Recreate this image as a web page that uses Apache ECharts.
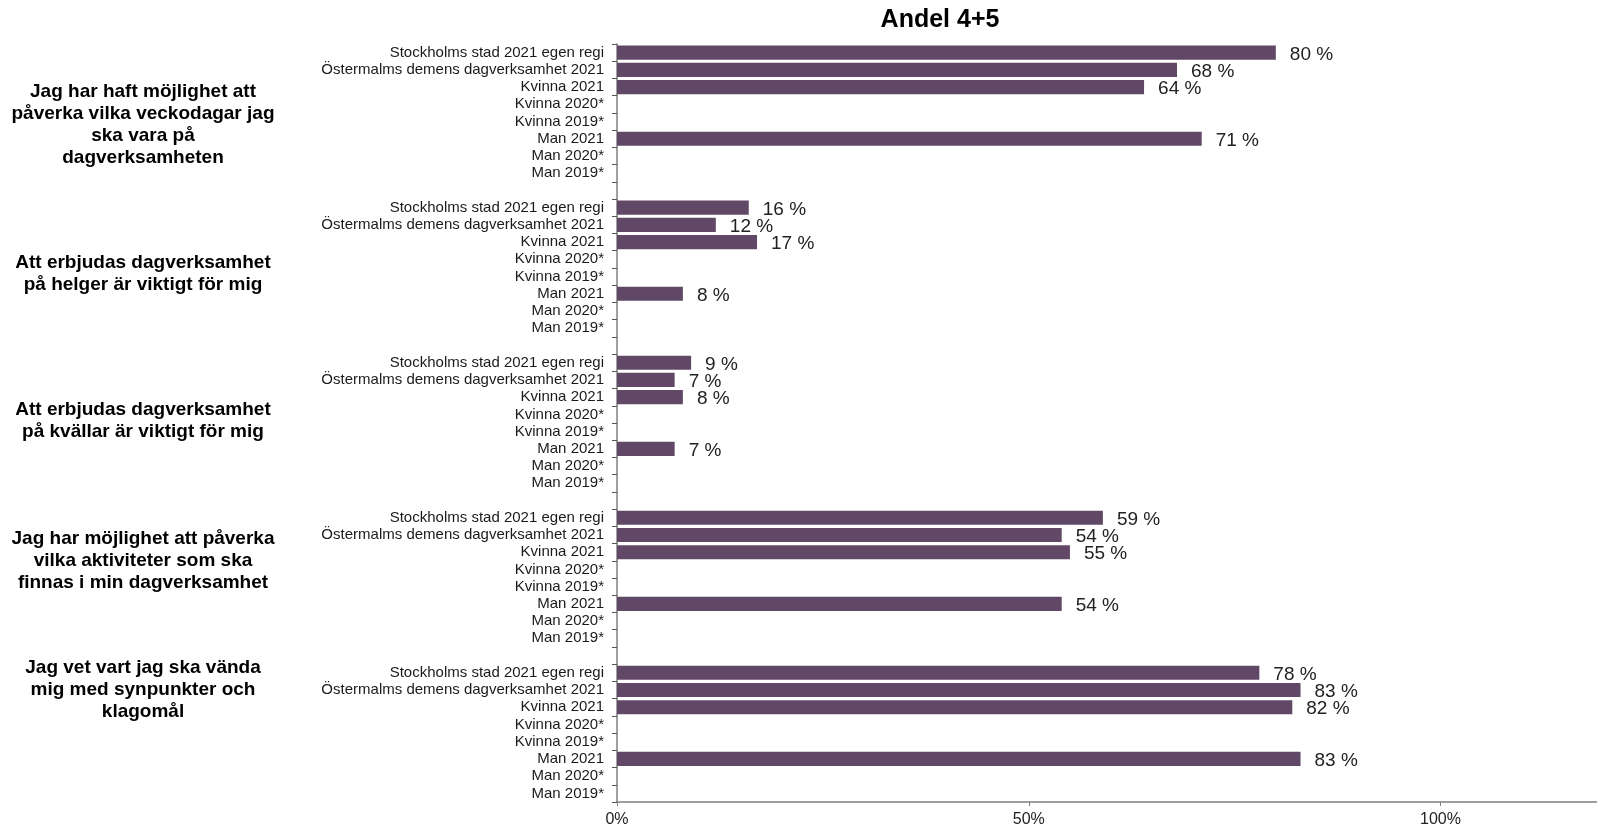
<!DOCTYPE html>
<html>
<head>
<meta charset="utf-8">
<script src="https://cdn.jsdelivr.net/npm/echarts@6/dist/echarts.min.js"></script>
<style>
  html, body { margin: 0; padding: 0; background: #fff; }
  #chart { width: 1597px; height: 830px; }
</style>
</head>
<body>
<div id="chart"></div>
<script>
// rows inside each question group (top to bottom)
var rowLabels = [
  'Stockholms stad 2021 egen regi',
  'Östermalms demens dagverksamhet 2021',
  'Kvinna 2021',
  'Kvinna 2020*',
  'Kvinna 2019*',
  'Man 2021',
  'Man 2020*',
  'Man 2019*'
]

var questions = [
  'Jag har haft möjlighet att\npåverka vilka veckodagar jag\nska vara på\ndagverksamheten',
  'Att erbjudas dagverksamhet\npå helger är viktigt för mig',
  'Att erbjudas dagverksamhet\npå kvällar är viktigt för mig',
  'Jag har möjlighet att påverka\nvilka aktiviteter som ska\nfinnas i min dagverksamhet',
  'Jag vet vart jag ska vända\nmig med synpunkter och\nklagomål'
]

// Andel 4+5 (%) per group, null = no bar
var q1 = [80, 68, 64, null, null, 71, null, null]
var q2 = [16, 12, 17, null, null, 8, null, null]
var q3 = [9, 7, 8, null, null, 7, null, null]
var q4 = [59, 54, 55, null, null, 54, null, null]
var q5 = [78, 83, 82, null, null, 83, null, null]

var xTicks = [0, 50, 100]

// build category list + values, with an empty row between groups
var groups = [q1, q2, q3, q4, q5]
var categories = []
var values = []
groups.forEach(function (g, i) {
  if (i > 0) {
    categories.push('')
    values.push(null)
  }
  rowLabels.forEach(function (r, j) {
    categories.push(r)
    values.push(g[j])
  })
})

// vertical centre of each question text (layout only)
var questionY = [125, 274, 421, 561, 690]

var font = "'Liberation Sans', Arial, sans-serif"
var graphics = [{
  type: 'text',
  x: 940, y: 20,
  style: {
    text: 'Andel 4+5',
    font: 'bold 25px ' + font,
    fill: '#000',
    textAlign: 'center',
    textVerticalAlign: 'middle'
  }
}]
questions.forEach(function (q, i) {
  graphics.push({
    type: 'text',
    x: 143, y: questionY[i],
    style: {
      text: q,
      font: 'bold 19px ' + font,
      lineHeight: 22,
      fill: '#000',
      textAlign: 'center',
      textVerticalAlign: 'middle'
    }
  })
})

var chart = echarts.init(document.getElementById('chart'))

var option = {
  animation: false,
  textStyle: { fontFamily: font },
  grid: { left: 617, right: 0, top: 44, bottom: 28, containLabel: false },
  xAxis: {
    type: 'value',
    min: xTicks[0],
    max: 119,
    interval: 50,
    splitLine: { show: false },
    axisLine: { show: true, lineStyle: { color: '#808080', width: 1.5 } },
    axisTick: { show: true, length: 4, lineStyle: { color: '#808080' } },
    axisLabel: {
      showMaxLabel: false,
      formatter: '{value}%',
      fontSize: 16,
      color: '#222',
      margin: 10
    }
  },
  yAxis: {
    type: 'category',
    inverse: true,
    data: categories,
    axisLine: { show: true, lineStyle: { color: '#808080', width: 1.5 } },
    axisTick: { show: true, interval: 0, length: 5, lineStyle: { color: '#555' } },
    axisLabel: { interval: 0, fontSize: 15, color: '#1a1a1a', margin: 13 }
  },
  series: [{
    type: 'bar',
    data: values,
    barCategoryGap: '18%',
    itemStyle: { color: '#614866' },
    label: {
      show: true,
      position: 'right',
      distance: 14,
      offset: [0, 2],
      fontSize: 19,
      color: '#222',
      formatter: function (p) { return p.value + ' %' }
    }
  }],
  graphic: graphics
}

chart.setOption(option)
</script>
</body>
</html>
